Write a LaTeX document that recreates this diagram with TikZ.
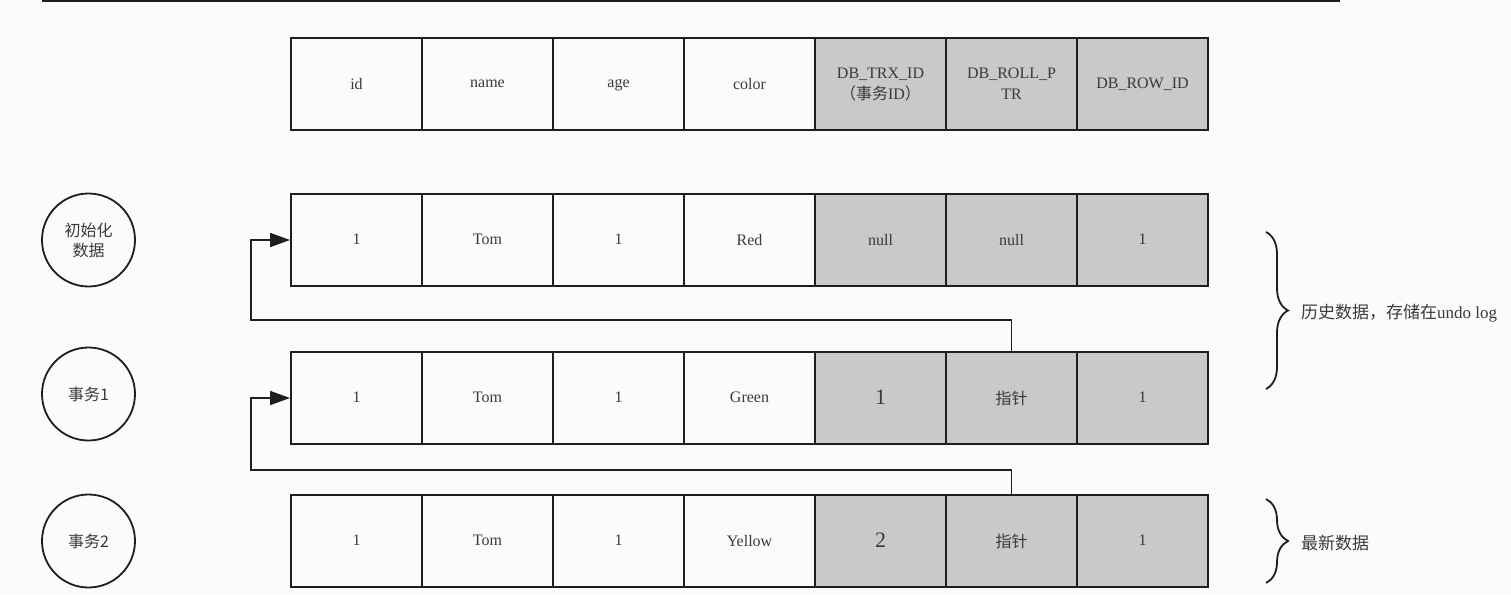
\documentclass[tikz,border=0pt]{standalone}
\usepackage{fontspec}
\setmainfont{Liberation Serif}
\newfontfamily\cjk{Noto Sans CJK SC}
\usetikzlibrary{arrows.meta,decorations.pathreplacing}
\definecolor{bgc}{HTML}{FBFBF9}
\definecolor{cellgray}{HTML}{C9C9C9}
\definecolor{linec}{HTML}{1E1E1E}
\definecolor{txtc}{HTML}{3A3A3A}
\begin{document}
\begin{tikzpicture}[x=1pt,y=-1pt,
  cellbox/.style={draw=linec,line width=2pt,minimum width=131pt,minimum height=92pt,inner sep=0pt,text=txtc,font=\fontsize{16}{21}\selectfont,align=center,text depth=1pt},
  sysbox/.style={cellbox,fill=cellgray},
  bigtxt/.style={font=\fontsize{22}{26}\selectfont},
  txnode/.style={circle,draw=linec,line width=1.8pt,minimum size=93pt,inner sep=0pt,text=txtc,font=\cjk\fontsize{16}{20}\selectfont,align=center},
  link/.style={draw=linec,line width=1.8pt,-{Triangle[length=20pt,width=14pt]}},
  bracec/.style={draw=linec,line width=1.8pt,decorate,decoration={brace,amplitude=22pt}},
  note/.style={anchor=west,text=txtc,font=\fontsize{17}{20}\selectfont,inner sep=0pt},
  rule/.style={draw=linec,line width=2pt}]
\fill[bgc] (0,0) rectangle (1511,594);
\useasboundingbox (0,0) rectangle (1511,594);

% top rule
\coordinate (tl) at (42,1);
\coordinate (tr) at (1340,1);
\draw[rule] (tl) -- (tr);

% header row
\foreach \t [count=\i] in {id,name,age,color}
  \node[cellbox] (h\i) at ({356.5+131*(\i-1)},84) {\t};
\node[sysbox] (h5) at (880.5,84) {DB\_TRX\_ID\\{\cjk （事务}ID{\cjk ）}};
\node[sysbox] (h6) at (1011.5,84) {DB\_ROLL\_P\\TR};
\node[sysbox] (h7) at (1142.5,84) {DB\_ROW\_ID};

% row 1 : initial data
\foreach \t [count=\i] in {1,Tom,1,Red}
  \node[cellbox] (a\i) at ({356.5+131*(\i-1)},240) {\t};
\node[sysbox] (a5) at (880.5,240) {null};
\node[sysbox] (a6) at (1011.5,240) {null};
\node[sysbox] (a7) at (1142.5,240) {1};

% row 2 : transaction 1
\foreach \t [count=\i] in {1,Tom,1,Green}
  \node[cellbox] (b\i) at ({356.5+131*(\i-1)},398) {\t};
\node[sysbox,bigtxt] (b5) at (880.5,398) {1};
\node[sysbox] (b6) at (1011.5,398) {\cjk 指针};
\node[sysbox] (b7) at (1142.5,398) {1};

% row 3 : transaction 2
\foreach \t [count=\i] in {1,Tom,1,Yellow}
  \node[cellbox] (c\i) at ({356.5+131*(\i-1)},541) {\t};
\node[sysbox,bigtxt] (c5) at (880.5,541) {2};
\node[sysbox] (c6) at (1011.5,541) {\cjk 指针};
\node[sysbox] (c7) at (1142.5,541) {1};

% transaction circles
\node[txnode] (t0) at (88.5,240) {初始化\\数据};
\node[txnode] (t1) at (88.5,394) {事务1};
\node[txnode] (t2) at (88.5,541) {事务2};

% roll pointers
\coordinate (k1) at (251,320);
\coordinate (k2) at (251,470);
\draw[link] (b6.north) |- (k1) |- (a1.west);
\draw[link] (c6.north) |- (k2) |- (b1.west);

% braces
\coordinate (br1s) at (1266,232);
\coordinate (br1e) at (1266,389);
\draw[bracec] (br1s) -- (br1e);
\coordinate (br2s) at (1266,499);
\coordinate (br2e) at (1266,583);
\draw[bracec] (br2s) -- (br2e);
\node[note] (n1) at (1301,313) {{\cjk 历史数据，存储在}undo log};
\node[note] (n2) at (1301,543) {\cjk 最新数据};
\end{tikzpicture}
\end{document}
